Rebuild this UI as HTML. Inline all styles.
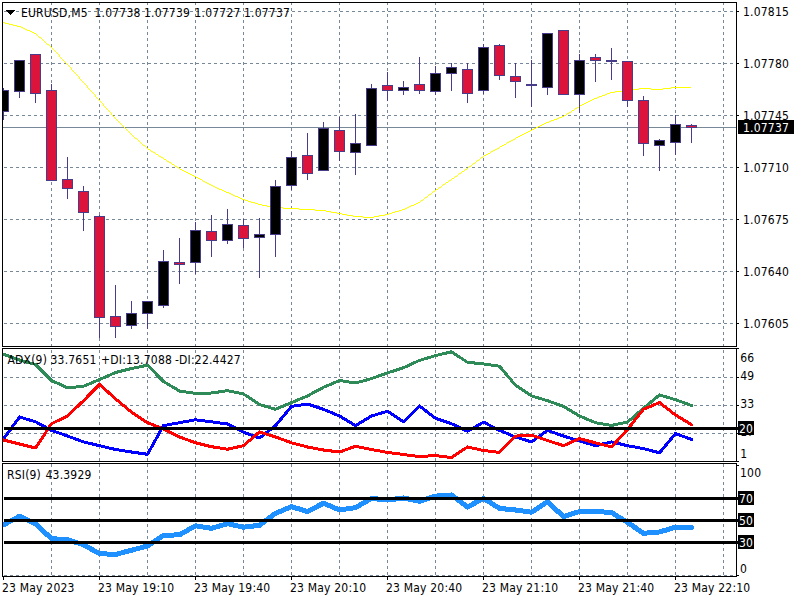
<!DOCTYPE html>
<html><head><meta charset="utf-8"><title>EURUSD,M5</title>
<style>html,body{margin:0;padding:0;background:#fff;overflow:hidden}svg{display:block}</style>
</head><body>
<svg width="800" height="600" viewBox="0 0 800 600" shape-rendering="crispEdges">
<rect x="0" y="0" width="800" height="600" fill="#fff"/>
<defs><clipPath id="ca"><rect x="3" y="349" width="733" height="112"/></clipPath><clipPath id="cr"><rect x="3" y="464" width="733" height="112"/></clipPath></defs>
<path d="M4 11.5H736" stroke="#778899" stroke-dasharray="3 3"/>
<path d="M4 63.5H736" stroke="#778899" stroke-dasharray="3 3"/>
<path d="M4 115.5H736" stroke="#778899" stroke-dasharray="3 3"/>
<path d="M4 167.5H736" stroke="#778899" stroke-dasharray="3 3"/>
<path d="M4 219.5H736" stroke="#778899" stroke-dasharray="3 3"/>
<path d="M4 271.5H736" stroke="#778899" stroke-dasharray="3 3"/>
<path d="M4 323.5H736" stroke="#778899" stroke-dasharray="3 3"/>
<path d="M51.5 2V346" stroke="#778899" stroke-dasharray="3 3"/>
<path d="M99.5 2V346" stroke="#778899" stroke-dasharray="3 3"/>
<path d="M147.5 2V346" stroke="#778899" stroke-dasharray="3 3"/>
<path d="M195.5 2V346" stroke="#778899" stroke-dasharray="3 3"/>
<path d="M243.5 2V346" stroke="#778899" stroke-dasharray="3 3"/>
<path d="M291.5 2V346" stroke="#778899" stroke-dasharray="3 3"/>
<path d="M339.5 2V346" stroke="#778899" stroke-dasharray="3 3"/>
<path d="M387.5 2V346" stroke="#778899" stroke-dasharray="3 3"/>
<path d="M435.5 2V346" stroke="#778899" stroke-dasharray="3 3"/>
<path d="M483.5 2V346" stroke="#778899" stroke-dasharray="3 3"/>
<path d="M531.5 2V346" stroke="#778899" stroke-dasharray="3 3"/>
<path d="M579.5 2V346" stroke="#778899" stroke-dasharray="3 3"/>
<path d="M627.5 2V346" stroke="#778899" stroke-dasharray="3 3"/>
<path d="M675.5 2V346" stroke="#778899" stroke-dasharray="3 3"/>
<path d="M723.5 2V346" stroke="#778899" stroke-dasharray="3 3"/>
<path d="M3 127.5H736" stroke="#778899"/>
<path d="M3 22h2v1h-2zM5 23h4v1h-4zM9 24h4v1h-4zM13 25h4v1h-4zM17 26h4v1h-4zM21 27h2v1h-2zM23 28h2v1h-2zM25 29h2v1h-2zM27 30h3v1h-3zM30 31h2v1h-2zM32 32h2v1h-2zM34 33h2v1h-2zM36 34h1v1h-1zM37 35h1v1h-1zM38 36h1v1h-1zM39 37h2v1h-2zM41 38h1v1h-1zM42 39h1v1h-1zM43 40h1v1h-1zM44 41h1v1h-1zM45 42h1v1h-1zM46 43h1v1h-1zM47 44h2v1h-2zM49 45h1v1h-1zM50 46h1v1h-1zM51 47h1v1h-1zM52 48h1v1h-1zM53 49h1v1h-1zM54 50h1v1h-1zM55 51h1v1h-1zM56 52h1v1h-1zM57 53h1v1h-1zM58 54h1v1h-1zM59 55h1v1h-1zM59 56h1v1h-1zM60 57h1v1h-1zM61 58h1v1h-1zM62 59h1v1h-1zM63 60h1v1h-1zM64 61h1v1h-1zM65 62h1v1h-1zM66 63h1v1h-1zM67 64h1v1h-1zM68 65h1v1h-1zM69 66h1v1h-1zM70 67h1v1h-1zM71 68h1v1h-1zM71 69h1v1h-1zM72 70h1v1h-1zM73 71h1v1h-1zM74 72h1v1h-1zM75 73h1v1h-1zM76 74h1v1h-1zM77 75h1v1h-1zM78 76h1v1h-1zM79 77h1v1h-1zM79 78h1v1h-1zM80 79h1v1h-1zM81 80h1v1h-1zM82 81h1v1h-1zM83 82h1v1h-1zM84 83h1v1h-1zM85 84h1v1h-1zM86 85h1v1h-1zM87 86h1v1h-1zM87 87h1v1h-1zM671 87h20v1h-20zM88 88h1v1h-1zM639 88h12v1h-12zM663 88h8v1h-8zM89 89h1v1h-1zM631 89h8v1h-8zM651 89h12v1h-12zM90 90h1v1h-1zM623 90h8v1h-8zM91 91h1v1h-1zM615 91h8v1h-8zM92 92h1v1h-1zM610 92h5v1h-5zM93 93h1v1h-1zM607 93h3v1h-3zM94 94h1v1h-1zM605 94h2v1h-2zM95 95h1v1h-1zM602 95h3v1h-3zM95 96h1v1h-1zM599 96h3v1h-3zM96 97h1v1h-1zM597 97h2v1h-2zM97 98h1v1h-1zM594 98h3v1h-3zM98 99h1v1h-1zM592 99h2v1h-2zM99 100h1v1h-1zM590 100h2v1h-2zM100 101h1v1h-1zM588 101h2v1h-2zM101 102h1v1h-1zM586 102h2v1h-2zM102 103h1v1h-1zM584 103h2v1h-2zM103 104h1v1h-1zM582 104h2v1h-2zM103 105h1v1h-1zM580 105h2v1h-2zM104 106h1v1h-1zM579 106h1v1h-1zM105 107h1v1h-1zM577 107h2v1h-2zM106 108h1v1h-1zM575 108h2v1h-2zM107 109h1v1h-1zM574 109h1v1h-1zM108 110h1v1h-1zM572 110h2v1h-2zM109 111h1v1h-1zM571 111h1v1h-1zM110 112h1v1h-1zM569 112h2v1h-2zM111 113h1v1h-1zM567 113h2v1h-2zM111 114h1v1h-1zM566 114h1v1h-1zM112 115h1v1h-1zM564 115h2v1h-2zM113 116h1v1h-1zM562 116h2v1h-2zM114 117h1v1h-1zM559 117h3v1h-3zM115 118h1v1h-1zM557 118h2v1h-2zM116 119h1v1h-1zM554 119h3v1h-3zM117 120h1v1h-1zM551 120h3v1h-3zM118 121h1v1h-1zM549 121h2v1h-2zM119 122h1v1h-1zM546 122h3v1h-3zM120 123h1v1h-1zM544 123h2v1h-2zM121 124h1v1h-1zM542 124h2v1h-2zM122 125h1v1h-1zM540 125h2v1h-2zM123 126h1v1h-1zM538 126h2v1h-2zM124 127h1v1h-1zM536 127h2v1h-2zM125 128h1v1h-1zM534 128h2v1h-2zM126 129h1v1h-1zM532 129h2v1h-2zM127 130h1v1h-1zM530 130h2v1h-2zM128 131h1v1h-1zM528 131h2v1h-2zM129 132h1v1h-1zM526 132h2v1h-2zM130 133h1v1h-1zM524 133h2v1h-2zM131 134h1v1h-1zM522 134h2v1h-2zM132 135h1v1h-1zM520 135h2v1h-2zM133 136h1v1h-1zM518 136h2v1h-2zM134 137h1v1h-1zM516 137h2v1h-2zM135 138h2v1h-2zM515 138h1v1h-1zM137 139h1v1h-1zM513 139h2v1h-2zM138 140h1v1h-1zM511 140h2v1h-2zM139 141h1v1h-1zM509 141h2v1h-2zM140 142h1v1h-1zM507 142h2v1h-2zM141 143h1v1h-1zM506 143h1v1h-1zM142 144h1v1h-1zM504 144h2v1h-2zM143 145h2v1h-2zM502 145h2v1h-2zM145 146h1v1h-1zM500 146h2v1h-2zM146 147h1v1h-1zM499 147h1v1h-1zM147 148h1v1h-1zM497 148h2v1h-2zM148 149h2v1h-2zM495 149h2v1h-2zM150 150h1v1h-1zM493 150h2v1h-2zM151 151h2v1h-2zM491 151h2v1h-2zM153 152h2v1h-2zM490 152h1v1h-1zM155 153h1v1h-1zM488 153h2v1h-2zM156 154h2v1h-2zM486 154h2v1h-2zM158 155h1v1h-1zM484 155h2v1h-2zM159 156h2v1h-2zM483 156h1v1h-1zM161 157h2v1h-2zM481 157h2v1h-2zM163 158h1v1h-1zM480 158h1v1h-1zM164 159h2v1h-2zM479 159h1v1h-1zM166 160h1v1h-1zM477 160h2v1h-2zM167 161h2v1h-2zM476 161h1v1h-1zM169 162h2v1h-2zM475 162h1v1h-1zM171 163h1v1h-1zM473 163h2v1h-2zM172 164h2v1h-2zM472 164h1v1h-1zM174 165h1v1h-1zM471 165h1v1h-1zM175 166h2v1h-2zM469 166h2v1h-2zM177 167h2v1h-2zM468 167h1v1h-1zM179 168h1v1h-1zM467 168h1v1h-1zM180 169h2v1h-2zM465 169h2v1h-2zM182 170h2v1h-2zM464 170h1v1h-1zM184 171h2v1h-2zM462 171h2v1h-2zM186 172h2v1h-2zM461 172h1v1h-1zM188 173h2v1h-2zM459 173h2v1h-2zM190 174h2v1h-2zM458 174h1v1h-1zM192 175h2v1h-2zM457 175h1v1h-1zM194 176h2v1h-2zM455 176h2v1h-2zM196 177h2v1h-2zM454 177h1v1h-1zM198 178h2v1h-2zM452 178h2v1h-2zM200 179h2v1h-2zM451 179h1v1h-1zM202 180h1v1h-1zM449 180h2v1h-2zM203 181h2v1h-2zM448 181h1v1h-1zM205 182h2v1h-2zM446 182h2v1h-2zM207 183h2v1h-2zM445 183h1v1h-1zM209 184h2v1h-2zM443 184h2v1h-2zM211 185h2v1h-2zM442 185h1v1h-1zM213 186h2v1h-2zM441 186h1v1h-1zM215 187h2v1h-2zM439 187h2v1h-2zM217 188h2v1h-2zM438 188h1v1h-1zM219 189h3v1h-3zM436 189h2v1h-2zM222 190h2v1h-2zM435 190h1v1h-1zM224 191h2v1h-2zM433 191h2v1h-2zM226 192h3v1h-3zM432 192h1v1h-1zM229 193h2v1h-2zM431 193h1v1h-1zM231 194h2v1h-2zM429 194h2v1h-2zM233 195h2v1h-2zM428 195h1v1h-1zM235 196h3v1h-3zM427 196h1v1h-1zM238 197h2v1h-2zM425 197h2v1h-2zM240 198h2v1h-2zM424 198h1v1h-1zM242 199h3v1h-3zM423 199h1v1h-1zM245 200h3v1h-3zM421 200h2v1h-2zM248 201h3v1h-3zM420 201h1v1h-1zM251 202h4v1h-4zM418 202h2v1h-2zM255 203h3v1h-3zM416 203h2v1h-2zM258 204h4v1h-4zM414 204h2v1h-2zM262 205h5v1h-5zM411 205h3v1h-3zM267 206h6v1h-6zM409 206h2v1h-2zM273 207h10v1h-10zM407 207h2v1h-2zM283 208h16v1h-16zM405 208h2v1h-2zM299 209h16v1h-16zM402 209h3v1h-3zM315 210h11v1h-11zM399 210h3v1h-3zM326 211h5v1h-5zM395 211h4v1h-4zM331 212h6v1h-6zM392 212h3v1h-3zM337 213h5v1h-5zM389 213h3v1h-3zM342 214h5v1h-5zM385 214h4v1h-4zM347 215h6v1h-6zM379 215h6v1h-6zM353 216h10v1h-10zM374 216h5v1h-5zM363 217h11v1h-11z" fill="#FFFF00"/>
<rect x="3" y="88" width="1" height="2" fill="#483D8B"/>
<rect x="3" y="112" width="1" height="8" fill="#483D8B"/>
<rect x="3" y="90" width="6" height="22" fill="#483D8B"/>
<rect x="3" y="91" width="5" height="20" fill="#000000"/>
<rect x="19" y="92" width="1" height="6" fill="#483D8B"/>
<rect x="14" y="60" width="11" height="32" fill="#483D8B"/>
<rect x="15" y="61" width="9" height="30" fill="#000000"/>
<rect x="35" y="94" width="1" height="9" fill="#483D8B"/>
<rect x="30" y="54" width="11" height="40" fill="#483D8B"/>
<rect x="31" y="55" width="9" height="38" fill="#DC143C"/>
<rect x="51" y="84" width="1" height="6" fill="#483D8B"/>
<rect x="46" y="90" width="11" height="91" fill="#483D8B"/>
<rect x="47" y="91" width="9" height="89" fill="#DC143C"/>
<rect x="67" y="157" width="1" height="22" fill="#483D8B"/>
<rect x="67" y="189" width="1" height="10" fill="#483D8B"/>
<rect x="62" y="179" width="11" height="10" fill="#483D8B"/>
<rect x="63" y="180" width="9" height="8" fill="#DC143C"/>
<rect x="83" y="186" width="1" height="5" fill="#483D8B"/>
<rect x="83" y="213" width="1" height="18" fill="#483D8B"/>
<rect x="78" y="191" width="11" height="22" fill="#483D8B"/>
<rect x="79" y="192" width="9" height="20" fill="#DC143C"/>
<rect x="99" y="215" width="1" height="1" fill="#483D8B"/>
<rect x="99" y="318" width="1" height="20" fill="#483D8B"/>
<rect x="94" y="216" width="11" height="102" fill="#483D8B"/>
<rect x="95" y="217" width="9" height="100" fill="#DC143C"/>
<rect x="115" y="285" width="1" height="31" fill="#483D8B"/>
<rect x="115" y="327" width="1" height="11" fill="#483D8B"/>
<rect x="110" y="316" width="11" height="11" fill="#483D8B"/>
<rect x="111" y="317" width="9" height="9" fill="#DC143C"/>
<rect x="131" y="301" width="1" height="12" fill="#483D8B"/>
<rect x="131" y="326" width="1" height="3" fill="#483D8B"/>
<rect x="126" y="313" width="11" height="13" fill="#483D8B"/>
<rect x="127" y="314" width="9" height="11" fill="#000000"/>
<rect x="147" y="314" width="1" height="15" fill="#483D8B"/>
<rect x="142" y="301" width="11" height="13" fill="#483D8B"/>
<rect x="143" y="302" width="9" height="11" fill="#000000"/>
<rect x="163" y="250" width="1" height="11" fill="#483D8B"/>
<rect x="163" y="306" width="1" height="2" fill="#483D8B"/>
<rect x="158" y="261" width="11" height="45" fill="#483D8B"/>
<rect x="159" y="262" width="9" height="43" fill="#000000"/>
<rect x="179" y="238" width="1" height="24" fill="#483D8B"/>
<rect x="179" y="265" width="1" height="19" fill="#483D8B"/>
<rect x="174" y="262" width="11" height="3" fill="#483D8B"/>
<rect x="175" y="263" width="9" height="1" fill="#DC143C"/>
<rect x="195" y="222" width="1" height="8" fill="#483D8B"/>
<rect x="195" y="263" width="1" height="11" fill="#483D8B"/>
<rect x="190" y="230" width="11" height="33" fill="#483D8B"/>
<rect x="191" y="231" width="9" height="31" fill="#000000"/>
<rect x="211" y="215" width="1" height="16" fill="#483D8B"/>
<rect x="211" y="241" width="1" height="16" fill="#483D8B"/>
<rect x="206" y="231" width="11" height="10" fill="#483D8B"/>
<rect x="207" y="232" width="9" height="8" fill="#DC143C"/>
<rect x="227" y="209" width="1" height="15" fill="#483D8B"/>
<rect x="227" y="241" width="1" height="3" fill="#483D8B"/>
<rect x="222" y="224" width="11" height="17" fill="#483D8B"/>
<rect x="223" y="225" width="9" height="15" fill="#000000"/>
<rect x="243" y="219" width="1" height="6" fill="#483D8B"/>
<rect x="243" y="239" width="1" height="9" fill="#483D8B"/>
<rect x="238" y="225" width="11" height="14" fill="#483D8B"/>
<rect x="239" y="226" width="9" height="12" fill="#DC143C"/>
<rect x="259" y="218" width="1" height="16" fill="#483D8B"/>
<rect x="259" y="238" width="1" height="40" fill="#483D8B"/>
<rect x="254" y="234" width="11" height="4" fill="#483D8B"/>
<rect x="255" y="235" width="9" height="2" fill="#000000"/>
<rect x="275" y="180" width="1" height="6" fill="#483D8B"/>
<rect x="275" y="235" width="1" height="22" fill="#483D8B"/>
<rect x="270" y="186" width="11" height="49" fill="#483D8B"/>
<rect x="271" y="187" width="9" height="47" fill="#000000"/>
<rect x="291" y="151" width="1" height="6" fill="#483D8B"/>
<rect x="291" y="186" width="1" height="4" fill="#483D8B"/>
<rect x="286" y="157" width="11" height="29" fill="#483D8B"/>
<rect x="287" y="158" width="9" height="27" fill="#000000"/>
<rect x="307" y="133" width="1" height="22" fill="#483D8B"/>
<rect x="307" y="174" width="1" height="6" fill="#483D8B"/>
<rect x="302" y="155" width="11" height="19" fill="#483D8B"/>
<rect x="303" y="156" width="9" height="17" fill="#DC143C"/>
<rect x="323" y="122" width="1" height="6" fill="#483D8B"/>
<rect x="318" y="128" width="11" height="43" fill="#483D8B"/>
<rect x="319" y="129" width="9" height="41" fill="#000000"/>
<rect x="339" y="117" width="1" height="13" fill="#483D8B"/>
<rect x="339" y="152" width="1" height="9" fill="#483D8B"/>
<rect x="334" y="130" width="11" height="22" fill="#483D8B"/>
<rect x="335" y="131" width="9" height="20" fill="#DC143C"/>
<rect x="355" y="114" width="1" height="29" fill="#483D8B"/>
<rect x="355" y="153" width="1" height="22" fill="#483D8B"/>
<rect x="350" y="143" width="11" height="10" fill="#483D8B"/>
<rect x="351" y="144" width="9" height="8" fill="#000000"/>
<rect x="371" y="84" width="1" height="4" fill="#483D8B"/>
<rect x="366" y="88" width="11" height="58" fill="#483D8B"/>
<rect x="367" y="89" width="9" height="56" fill="#000000"/>
<rect x="387" y="72" width="1" height="13" fill="#483D8B"/>
<rect x="387" y="91" width="1" height="10" fill="#483D8B"/>
<rect x="382" y="85" width="11" height="6" fill="#483D8B"/>
<rect x="383" y="86" width="9" height="4" fill="#DC143C"/>
<rect x="403" y="81" width="1" height="6" fill="#483D8B"/>
<rect x="403" y="91" width="1" height="4" fill="#483D8B"/>
<rect x="398" y="87" width="11" height="4" fill="#483D8B"/>
<rect x="399" y="88" width="9" height="2" fill="#000000"/>
<rect x="419" y="57" width="1" height="27" fill="#483D8B"/>
<rect x="419" y="91" width="1" height="3" fill="#483D8B"/>
<rect x="414" y="84" width="11" height="7" fill="#483D8B"/>
<rect x="415" y="85" width="9" height="5" fill="#DC143C"/>
<rect x="435" y="66" width="1" height="7" fill="#483D8B"/>
<rect x="435" y="92" width="1" height="3" fill="#483D8B"/>
<rect x="430" y="73" width="11" height="19" fill="#483D8B"/>
<rect x="431" y="74" width="9" height="17" fill="#000000"/>
<rect x="451" y="63" width="1" height="4" fill="#483D8B"/>
<rect x="451" y="74" width="1" height="17" fill="#483D8B"/>
<rect x="446" y="67" width="11" height="7" fill="#483D8B"/>
<rect x="447" y="68" width="9" height="5" fill="#000000"/>
<rect x="467" y="63" width="1" height="6" fill="#483D8B"/>
<rect x="467" y="94" width="1" height="9" fill="#483D8B"/>
<rect x="462" y="69" width="11" height="25" fill="#483D8B"/>
<rect x="463" y="70" width="9" height="23" fill="#DC143C"/>
<rect x="483" y="44" width="1" height="3" fill="#483D8B"/>
<rect x="483" y="91" width="1" height="3" fill="#483D8B"/>
<rect x="478" y="47" width="11" height="44" fill="#483D8B"/>
<rect x="479" y="48" width="9" height="42" fill="#000000"/>
<rect x="499" y="44" width="1" height="1" fill="#483D8B"/>
<rect x="499" y="76" width="1" height="4" fill="#483D8B"/>
<rect x="494" y="45" width="11" height="31" fill="#483D8B"/>
<rect x="495" y="46" width="9" height="29" fill="#DC143C"/>
<rect x="515" y="63" width="1" height="13" fill="#483D8B"/>
<rect x="515" y="82" width="1" height="16" fill="#483D8B"/>
<rect x="510" y="76" width="11" height="6" fill="#483D8B"/>
<rect x="511" y="77" width="9" height="4" fill="#DC143C"/>
<rect x="531" y="60" width="1" height="24" fill="#483D8B"/>
<rect x="531" y="86" width="1" height="21" fill="#483D8B"/>
<rect x="526" y="84" width="11" height="2" fill="#483D8B"/>
<rect x="547" y="88" width="1" height="7" fill="#483D8B"/>
<rect x="542" y="33" width="11" height="55" fill="#483D8B"/>
<rect x="543" y="34" width="9" height="53" fill="#000000"/>
<rect x="558" y="30" width="11" height="65" fill="#483D8B"/>
<rect x="559" y="31" width="9" height="63" fill="#DC143C"/>
<rect x="579" y="54" width="1" height="6" fill="#483D8B"/>
<rect x="579" y="95" width="1" height="18" fill="#483D8B"/>
<rect x="574" y="60" width="11" height="35" fill="#483D8B"/>
<rect x="575" y="61" width="9" height="33" fill="#000000"/>
<rect x="595" y="54" width="1" height="3" fill="#483D8B"/>
<rect x="595" y="61" width="1" height="21" fill="#483D8B"/>
<rect x="590" y="57" width="11" height="4" fill="#483D8B"/>
<rect x="591" y="58" width="9" height="2" fill="#DC143C"/>
<rect x="611" y="48" width="1" height="12" fill="#483D8B"/>
<rect x="611" y="62" width="1" height="18" fill="#483D8B"/>
<rect x="606" y="60" width="11" height="2" fill="#483D8B"/>
<rect x="627" y="101" width="1" height="6" fill="#483D8B"/>
<rect x="622" y="61" width="11" height="40" fill="#483D8B"/>
<rect x="623" y="62" width="9" height="38" fill="#DC143C"/>
<rect x="643" y="96" width="1" height="4" fill="#483D8B"/>
<rect x="643" y="144" width="1" height="12" fill="#483D8B"/>
<rect x="638" y="100" width="11" height="44" fill="#483D8B"/>
<rect x="639" y="101" width="9" height="42" fill="#DC143C"/>
<rect x="659" y="139" width="1" height="1" fill="#483D8B"/>
<rect x="659" y="146" width="1" height="25" fill="#483D8B"/>
<rect x="654" y="140" width="11" height="6" fill="#483D8B"/>
<rect x="655" y="141" width="9" height="4" fill="#000000"/>
<rect x="675" y="115" width="1" height="9" fill="#483D8B"/>
<rect x="675" y="143" width="1" height="12" fill="#483D8B"/>
<rect x="670" y="124" width="11" height="19" fill="#483D8B"/>
<rect x="671" y="125" width="9" height="17" fill="#000000"/>
<rect x="691" y="124" width="1" height="1" fill="#483D8B"/>
<rect x="691" y="128" width="1" height="15" fill="#483D8B"/>
<rect x="686" y="125" width="11" height="3" fill="#483D8B"/>
<rect x="687" y="126" width="9" height="1" fill="#DC143C"/>
<path d="M4 377.5H736" stroke="#778899" stroke-dasharray="3 3"/>
<path d="M4 405.5H736" stroke="#778899" stroke-dasharray="3 3"/>
<path d="M4 433.5H736" stroke="#778899" stroke-dasharray="3 3"/>
<path d="M51.5 350V461" stroke="#778899" stroke-dasharray="3 3"/>
<path d="M99.5 350V461" stroke="#778899" stroke-dasharray="3 3"/>
<path d="M147.5 350V461" stroke="#778899" stroke-dasharray="3 3"/>
<path d="M195.5 350V461" stroke="#778899" stroke-dasharray="3 3"/>
<path d="M243.5 350V461" stroke="#778899" stroke-dasharray="3 3"/>
<path d="M291.5 350V461" stroke="#778899" stroke-dasharray="3 3"/>
<path d="M339.5 350V461" stroke="#778899" stroke-dasharray="3 3"/>
<path d="M387.5 350V461" stroke="#778899" stroke-dasharray="3 3"/>
<path d="M435.5 350V461" stroke="#778899" stroke-dasharray="3 3"/>
<path d="M483.5 350V461" stroke="#778899" stroke-dasharray="3 3"/>
<path d="M531.5 350V461" stroke="#778899" stroke-dasharray="3 3"/>
<path d="M579.5 350V461" stroke="#778899" stroke-dasharray="3 3"/>
<path d="M627.5 350V461" stroke="#778899" stroke-dasharray="3 3"/>
<path d="M675.5 350V461" stroke="#778899" stroke-dasharray="3 3"/>
<path d="M723.5 350V461" stroke="#778899" stroke-dasharray="3 3"/>
<g clip-path="url(#ca)">
<polyline points="3.5,354.3 19.5,360 35.5,364.5 51.5,380.5 67.5,387.8 83.5,386.3 99.5,379.6 115.5,372.5 131.5,368.5 147.5,365.2 163.5,381.5 179.5,391 195.5,393.4 211.5,393 227.5,390.7 243.5,394 259.5,404.5 275.5,409.3 291.5,402.6 307.5,395.9 323.5,387.3 339.5,380.5 355.5,383 371.5,378.6 387.5,372.9 403.5,367.7 419.5,360.4 435.5,355.6 451.5,351.8 467.5,362.3 483.5,363.9 499.5,366.2 515.5,385.3 531.5,395.9 547.5,400.7 563.5,406.4 579.5,416 595.5,422.7 611.5,425.4 627.5,422.1 643.5,408.3 659.5,394.9 675.5,399.7 691.5,405.5" fill="none" stroke="#2E8B57" stroke-width="3" stroke-linejoin="round" stroke-linecap="round"/>
<polyline points="3.5,439 19.5,417 35.5,421.8 51.5,430.4 67.5,436 83.5,441.9 99.5,445.7 115.5,449.5 131.5,452 147.5,454.3 163.5,425.6 179.5,422.7 195.5,419.8 211.5,421.8 227.5,424 243.5,432.3 259.5,438 275.5,425.6 291.5,406.4 307.5,404.1 323.5,409.3 339.5,416 355.5,425.6 371.5,416 387.5,411.2 403.5,421.8 419.5,406 435.5,418.3 451.5,423.7 467.5,431.3 483.5,422.1 499.5,430.4 515.5,437 531.5,441.9 547.5,430.4 563.5,436.1 579.5,440.9 595.5,445.7 611.5,441.9 627.5,445.7 643.5,448.6 659.5,452.8 675.5,433.6 691.5,439.4" fill="none" stroke="#0000FF" stroke-width="3" stroke-linejoin="round" stroke-linecap="round"/>
<polyline points="3.5,440 19.5,444 35.5,448 51.5,423.7 67.5,416 83.5,400.7 99.5,384.4 115.5,398.8 131.5,412.2 147.5,422.7 163.5,429 179.5,437 195.5,442.8 211.5,446.7 227.5,449.2 243.5,445.7 259.5,431.9 275.5,437 291.5,442.8 307.5,447 323.5,450 339.5,452 355.5,446.3 371.5,449.5 387.5,452.4 403.5,454.5 419.5,456.6 435.5,455.5 451.5,457.6 467.5,447 483.5,450.5 499.5,452.4 515.5,436.1 531.5,435.2 547.5,440.5 563.5,445.7 579.5,438.6 595.5,442.8 611.5,447 627.5,429.4 643.5,409.3 659.5,402.6 675.5,415 691.5,424.6" fill="none" stroke="#FF0000" stroke-width="3" stroke-linejoin="round" stroke-linecap="round"/>
</g>
<rect x="4" y="427" width="734" height="3" fill="#000"/>
<path d="M4 575.5H736" stroke="#778899" stroke-dasharray="3 3"/>
<path d="M51.5 464V576" stroke="#778899" stroke-dasharray="3 3"/>
<path d="M99.5 464V576" stroke="#778899" stroke-dasharray="3 3"/>
<path d="M147.5 464V576" stroke="#778899" stroke-dasharray="3 3"/>
<path d="M195.5 464V576" stroke="#778899" stroke-dasharray="3 3"/>
<path d="M243.5 464V576" stroke="#778899" stroke-dasharray="3 3"/>
<path d="M291.5 464V576" stroke="#778899" stroke-dasharray="3 3"/>
<path d="M339.5 464V576" stroke="#778899" stroke-dasharray="3 3"/>
<path d="M387.5 464V576" stroke="#778899" stroke-dasharray="3 3"/>
<path d="M435.5 464V576" stroke="#778899" stroke-dasharray="3 3"/>
<path d="M483.5 464V576" stroke="#778899" stroke-dasharray="3 3"/>
<path d="M531.5 464V576" stroke="#778899" stroke-dasharray="3 3"/>
<path d="M579.5 464V576" stroke="#778899" stroke-dasharray="3 3"/>
<path d="M627.5 464V576" stroke="#778899" stroke-dasharray="3 3"/>
<path d="M675.5 464V576" stroke="#778899" stroke-dasharray="3 3"/>
<path d="M723.5 464V576" stroke="#778899" stroke-dasharray="3 3"/>
<g clip-path="url(#cr)">
<polyline points="3.5,524.9 19.5,516.2 35.5,523.7 51.5,538.7 67.5,539.6 83.5,544.8 99.5,553.6 115.5,554.5 131.5,550.2 147.5,546 163.5,535.4 179.5,534.8 195.5,525.8 211.5,528.3 227.5,523.7 243.5,527.2 259.5,525.3 275.5,513.4 291.5,506.7 307.5,511.5 323.5,503.2 339.5,510 355.5,507.6 371.5,498.4 387.5,500 403.5,498 419.5,501.3 435.5,496.1 451.5,495 467.5,507 483.5,498.4 499.5,508.4 515.5,510 531.5,512.2 547.5,501.7 563.5,516.6 579.5,511.5 595.5,511.5 611.5,512.5 627.5,522.4 643.5,533.3 659.5,532 675.5,527.2 691.5,527.2" fill="none" stroke="#1E90FF" stroke-width="5" stroke-linejoin="round" stroke-linecap="round"/>
</g>
<rect x="4" y="497" width="734" height="3" fill="#000"/>
<rect x="4" y="519" width="734" height="3" fill="#000"/>
<rect x="4" y="541" width="734" height="3" fill="#000"/>
<rect x="2.5" y="2.5" width="734" height="344" fill="none" stroke="#000"/>
<rect x="2.5" y="348.5" width="734" height="113" fill="none" stroke="#000"/>
<rect x="2.5" y="463.5" width="734" height="113" fill="none" stroke="#000"/>
<rect x="737" y="11" width="2" height="1" fill="#000"/>
<rect x="737" y="63" width="2" height="1" fill="#000"/>
<rect x="737" y="115" width="2" height="1" fill="#000"/>
<rect x="737" y="167" width="2" height="1" fill="#000"/>
<rect x="737" y="219" width="2" height="1" fill="#000"/>
<rect x="737" y="271" width="2" height="1" fill="#000"/>
<rect x="737" y="323" width="2" height="1" fill="#000"/>
<rect x="737" y="348" width="2" height="1" fill="#000"/>
<rect x="737" y="377" width="2" height="1" fill="#000"/>
<rect x="737" y="405" width="2" height="1" fill="#000"/>
<rect x="737" y="433" width="2" height="1" fill="#000"/>
<rect x="737" y="461" width="2" height="1" fill="#000"/>
<rect x="737" y="465" width="2" height="1" fill="#000"/>
<rect x="737" y="575" width="2" height="1" fill="#000"/>
<rect x="3" y="577" width="1" height="3" fill="#000"/>
<rect x="99" y="577" width="1" height="3" fill="#000"/>
<rect x="195" y="577" width="1" height="3" fill="#000"/>
<rect x="291" y="577" width="1" height="3" fill="#000"/>
<rect x="387" y="577" width="1" height="3" fill="#000"/>
<rect x="483" y="577" width="1" height="3" fill="#000"/>
<rect x="579" y="577" width="1" height="3" fill="#000"/>
<rect x="675" y="577" width="1" height="3" fill="#000"/>
<text x="743" y="16" font-family="DejaVu Sans Condensed, DejaVu Sans, sans-serif" font-size="12" letter-spacing="0.2" fill="#000" textLength="46.03" lengthAdjust="spacingAndGlyphs">1.07815</text>
<text x="743" y="68" font-family="DejaVu Sans Condensed, DejaVu Sans, sans-serif" font-size="12" letter-spacing="0.2" fill="#000" textLength="46.03" lengthAdjust="spacingAndGlyphs">1.07780</text>
<text x="743" y="120" font-family="DejaVu Sans Condensed, DejaVu Sans, sans-serif" font-size="12" letter-spacing="0.2" fill="#000" textLength="46.03" lengthAdjust="spacingAndGlyphs">1.07745</text>
<text x="743" y="172" font-family="DejaVu Sans Condensed, DejaVu Sans, sans-serif" font-size="12" letter-spacing="0.2" fill="#000" textLength="46.03" lengthAdjust="spacingAndGlyphs">1.07710</text>
<text x="743" y="224" font-family="DejaVu Sans Condensed, DejaVu Sans, sans-serif" font-size="12" letter-spacing="0.2" fill="#000" textLength="46.03" lengthAdjust="spacingAndGlyphs">1.07675</text>
<text x="743" y="276" font-family="DejaVu Sans Condensed, DejaVu Sans, sans-serif" font-size="12" letter-spacing="0.2" fill="#000" textLength="46.03" lengthAdjust="spacingAndGlyphs">1.07640</text>
<text x="743" y="328" font-family="DejaVu Sans Condensed, DejaVu Sans, sans-serif" font-size="12" letter-spacing="0.2" fill="#000" textLength="46.03" lengthAdjust="spacingAndGlyphs">1.07605</text>
<rect x="738" y="120" width="56" height="14" fill="#000"/>
<text x="743" y="132" font-family="DejaVu Sans Condensed, DejaVu Sans, sans-serif" font-size="12" letter-spacing="0.2" fill="#fff" textLength="46.03" lengthAdjust="spacingAndGlyphs">1.07737</text>
<rect x="6" y="10" width="9" height="1" fill="#000"/>
<rect x="7" y="11" width="7" height="1" fill="#000"/>
<rect x="8" y="12" width="5" height="1" fill="#000"/>
<rect x="9" y="13" width="3" height="1" fill="#000"/>
<rect x="10" y="14" width="1" height="1" fill="#000"/>
<text x="21" y="17" font-family="DejaVu Sans Condensed, DejaVu Sans, sans-serif" font-size="12" letter-spacing="0.2" fill="#000" textLength="66.72" lengthAdjust="spacingAndGlyphs">EURUSD,M5</text>
<text x="94.5" y="17" font-family="DejaVu Sans Condensed, DejaVu Sans, sans-serif" font-size="12" letter-spacing="0.2" fill="#000" textLength="46.03" lengthAdjust="spacingAndGlyphs">1.07738</text>
<text x="144" y="17" font-family="DejaVu Sans Condensed, DejaVu Sans, sans-serif" font-size="12" letter-spacing="0.2" fill="#000" textLength="46.03" lengthAdjust="spacingAndGlyphs">1.07739</text>
<text x="194.5" y="17" font-family="DejaVu Sans Condensed, DejaVu Sans, sans-serif" font-size="12" letter-spacing="0.2" fill="#000" textLength="46.03" lengthAdjust="spacingAndGlyphs">1.07727</text>
<text x="244" y="17" font-family="DejaVu Sans Condensed, DejaVu Sans, sans-serif" font-size="12" letter-spacing="0.2" fill="#000" textLength="46.03" lengthAdjust="spacingAndGlyphs">1.07737</text>
<text x="7.5" y="364" font-family="DejaVu Sans Condensed, DejaVu Sans, sans-serif" font-size="12" letter-spacing="0.2" fill="#000" textLength="39.59" lengthAdjust="spacingAndGlyphs">ADX(9)</text>
<text x="50.5" y="364" font-family="DejaVu Sans Condensed, DejaVu Sans, sans-serif" font-size="12" letter-spacing="0.2" fill="#000" textLength="46.03" lengthAdjust="spacingAndGlyphs">33.7651</text>
<text x="101" y="364" font-family="DejaVu Sans Condensed, DejaVu Sans, sans-serif" font-size="12" letter-spacing="0.2" fill="#000" textLength="71.02" lengthAdjust="spacingAndGlyphs">+DI:13.7088</text>
<text x="175" y="364" font-family="DejaVu Sans Condensed, DejaVu Sans, sans-serif" font-size="12" letter-spacing="0.2" fill="#000" textLength="65.88" lengthAdjust="spacingAndGlyphs">-DI:22.4427</text>
<text x="740.3" y="362" font-family="DejaVu Sans Condensed, DejaVu Sans, sans-serif" font-size="12" letter-spacing="0.2" fill="#000">66</text>
<text x="740.3" y="380" font-family="DejaVu Sans Condensed, DejaVu Sans, sans-serif" font-size="12" letter-spacing="0.2" fill="#000">49</text>
<text x="740.3" y="408" font-family="DejaVu Sans Condensed, DejaVu Sans, sans-serif" font-size="12" letter-spacing="0.2" fill="#000">33</text>
<text x="740.3" y="436" font-family="DejaVu Sans Condensed, DejaVu Sans, sans-serif" font-size="12" letter-spacing="0.2" fill="#000">17</text>
<rect x="738" y="421" width="16" height="14" fill="#000"/>
<text x="739" y="433" font-family="DejaVu Sans Condensed, DejaVu Sans, sans-serif" font-size="12" letter-spacing="0.2" fill="#fff">20</text>
<text x="740.3" y="458" font-family="DejaVu Sans Condensed, DejaVu Sans, sans-serif" font-size="12" letter-spacing="0.2" fill="#000">1</text>
<text x="7" y="479" font-family="DejaVu Sans Condensed, DejaVu Sans, sans-serif" font-size="12" letter-spacing="0.2" fill="#000" textLength="34.03" lengthAdjust="spacingAndGlyphs">RSI(9)</text>
<text x="45.5" y="479" font-family="DejaVu Sans Condensed, DejaVu Sans, sans-serif" font-size="12" letter-spacing="0.2" fill="#000" textLength="46.03" lengthAdjust="spacingAndGlyphs">43.3929</text>
<text x="740" y="477" font-family="DejaVu Sans Condensed, DejaVu Sans, sans-serif" font-size="12" letter-spacing="0.2" fill="#000">100</text>
<rect x="738" y="491" width="16" height="14" fill="#000"/>
<text x="739" y="503" font-family="DejaVu Sans Condensed, DejaVu Sans, sans-serif" font-size="12" letter-spacing="0.2" fill="#fff">70</text>
<rect x="738" y="513" width="16" height="14" fill="#000"/>
<text x="739" y="525" font-family="DejaVu Sans Condensed, DejaVu Sans, sans-serif" font-size="12" letter-spacing="0.2" fill="#fff">50</text>
<rect x="738" y="535" width="16" height="14" fill="#000"/>
<text x="739" y="547" font-family="DejaVu Sans Condensed, DejaVu Sans, sans-serif" font-size="12" letter-spacing="0.2" fill="#fff">30</text>
<text x="740" y="573" font-family="DejaVu Sans Condensed, DejaVu Sans, sans-serif" font-size="12" letter-spacing="0.2" fill="#000">0</text>
<text x="2" y="592" font-family="DejaVu Sans Condensed, DejaVu Sans, sans-serif" font-size="12" letter-spacing="0.2" fill="#000" textLength="72.58" lengthAdjust="spacingAndGlyphs">23 May 2023</text>
<text x="98" y="592" font-family="DejaVu Sans Condensed, DejaVu Sans, sans-serif" font-size="12" letter-spacing="0.2" fill="#000" textLength="76.42" lengthAdjust="spacingAndGlyphs">23 May 19:10</text>
<text x="194" y="592" font-family="DejaVu Sans Condensed, DejaVu Sans, sans-serif" font-size="12" letter-spacing="0.2" fill="#000" textLength="76.42" lengthAdjust="spacingAndGlyphs">23 May 19:40</text>
<text x="290" y="592" font-family="DejaVu Sans Condensed, DejaVu Sans, sans-serif" font-size="12" letter-spacing="0.2" fill="#000" textLength="76.42" lengthAdjust="spacingAndGlyphs">23 May 20:10</text>
<text x="386" y="592" font-family="DejaVu Sans Condensed, DejaVu Sans, sans-serif" font-size="12" letter-spacing="0.2" fill="#000" textLength="76.42" lengthAdjust="spacingAndGlyphs">23 May 20:40</text>
<text x="482" y="592" font-family="DejaVu Sans Condensed, DejaVu Sans, sans-serif" font-size="12" letter-spacing="0.2" fill="#000" textLength="76.42" lengthAdjust="spacingAndGlyphs">23 May 21:10</text>
<text x="578" y="592" font-family="DejaVu Sans Condensed, DejaVu Sans, sans-serif" font-size="12" letter-spacing="0.2" fill="#000" textLength="76.42" lengthAdjust="spacingAndGlyphs">23 May 21:40</text>
<text x="674" y="592" font-family="DejaVu Sans Condensed, DejaVu Sans, sans-serif" font-size="12" letter-spacing="0.2" fill="#000" textLength="76.42" lengthAdjust="spacingAndGlyphs">23 May 22:10</text>
</svg>
</body></html>
